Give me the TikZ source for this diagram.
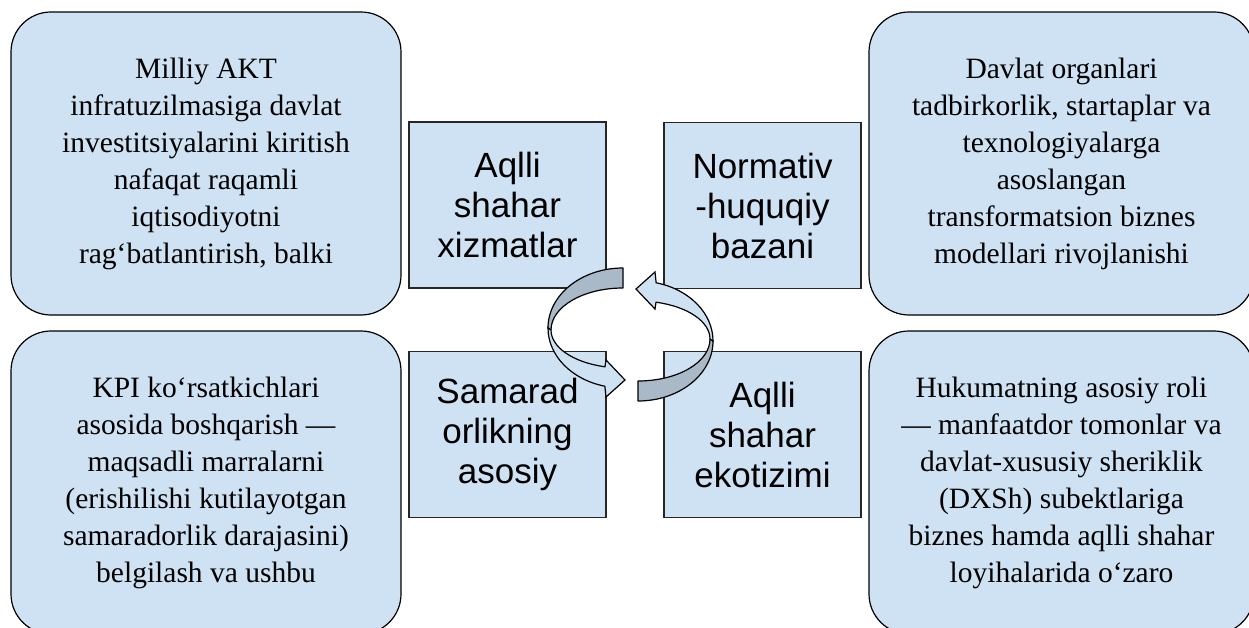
\documentclass[tikz,border=0pt]{standalone}
\usepackage{fontspec}
\setmainfont{Liberation Serif}
\setsansfont{Liberation Sans}
\definecolor{boxblue}{RGB}{207,226,243}
\definecolor{backblue}{RGB}{169,185,199}
\tikzset{
  rbox/.style={draw=black, line width=1.2pt, fill=boxblue, rounded corners=40pt,
    minimum width=390pt, minimum height=303pt, inner sep=0pt, align=center,
    font=\fontsize{29.5}{37}\selectfont},
  rboxr/.style={rbox, minimum width=385pt},
  sqbox/.style={draw=black!85, line width=1.2pt, fill=boxblue,
    minimum width=197pt, minimum height=166pt, inner sep=0pt, align=center,
    font=\sffamily\fontsize{35}{40}\selectfont},
  backface/.style={draw=black, line width=1.2pt, fill=backblue, line join=round},
  frontface/.style={draw=black, line width=1.2pt, fill=boxblue, line join=miter},
}
\begin{document}
\begin{tikzpicture}[x=1pt,y=1pt]
\useasboundingbox (0,0) rectangle (1249,-628);
\fill[white] (0,0) rectangle (1249,-628);
\clip (0,0) rectangle (1249,-628);

% rounded text boxes
\node[rbox] (tl) at (206,-163.5) {Milliy AKT\\infratuzilmasiga davlat\\investitsiyalarini kiritish\\nafaqat raqamli\\iqtisodiyotni\\rag‘batlantirish, balki};
\node[rboxr] (tr) at (1061.5,-163.5) {Davlat organlari\\tadbirkorlik, startaplar va\\texnologiyalarga\\asoslangan\\transformatsion biznes\\modellari rivojlanishi};
\node[rbox] (bl) at (206,-482.5) {KPI ko‘rsatkichlari\\asosida boshqarish —\\maqsadli marralarni\\(erishilishi kutilayotgan\\samaradorlik darajasini)\\belgilash va ushbu};
\node[rboxr] (br) at (1061.5,-482.5) {Hukumatning asosiy roli\\— manfaatdor tomonlar va\\davlat-xususiy sheriklik\\(DXSh) subektlariga\\biznes hamda aqlli shahar\\loyihalarida o‘zaro};

% square boxes
\node[sqbox] (a1) at (507.5,-205) {Aqlli\\shahar\\xizmatlar};
\node[sqbox] (a2) at (762.5,-205.5) {Normativ\\-huquqiy\\bazani};
\node[sqbox] (a3) at (507.5,-434.5) {Samarad\\orlikning\\asosiy};
\node[sqbox] (a4) at (762.5,-434.5) {Aqlli\\shahar\\ekotizimi};

% circular arrows (left one, and the same rotated for the right one)
\foreach \ang in {0,180}{
\begin{scope}[rotate around={\ang:(630.5,-334.5)}]
  \filldraw[backface] (623,-268) arc[start angle=90,end angle=180,x radius=75,y radius=60]
    -- (551,-330) arc[start angle=180,end angle=90,x radius=72,y radius=42] -- cycle;
  \filldraw[frontface] (548,-328) arc[start angle=180,end angle=256,x radius=75,y radius=60]
    -- (606,-397) -- (625,-380) -- (606,-360) -- (604.97,-366.79)
    arc[start angle=255.5,end angle=180,x radius=72,y radius=38] -- cycle;
\end{scope}
}
\end{tikzpicture}
\end{document}
